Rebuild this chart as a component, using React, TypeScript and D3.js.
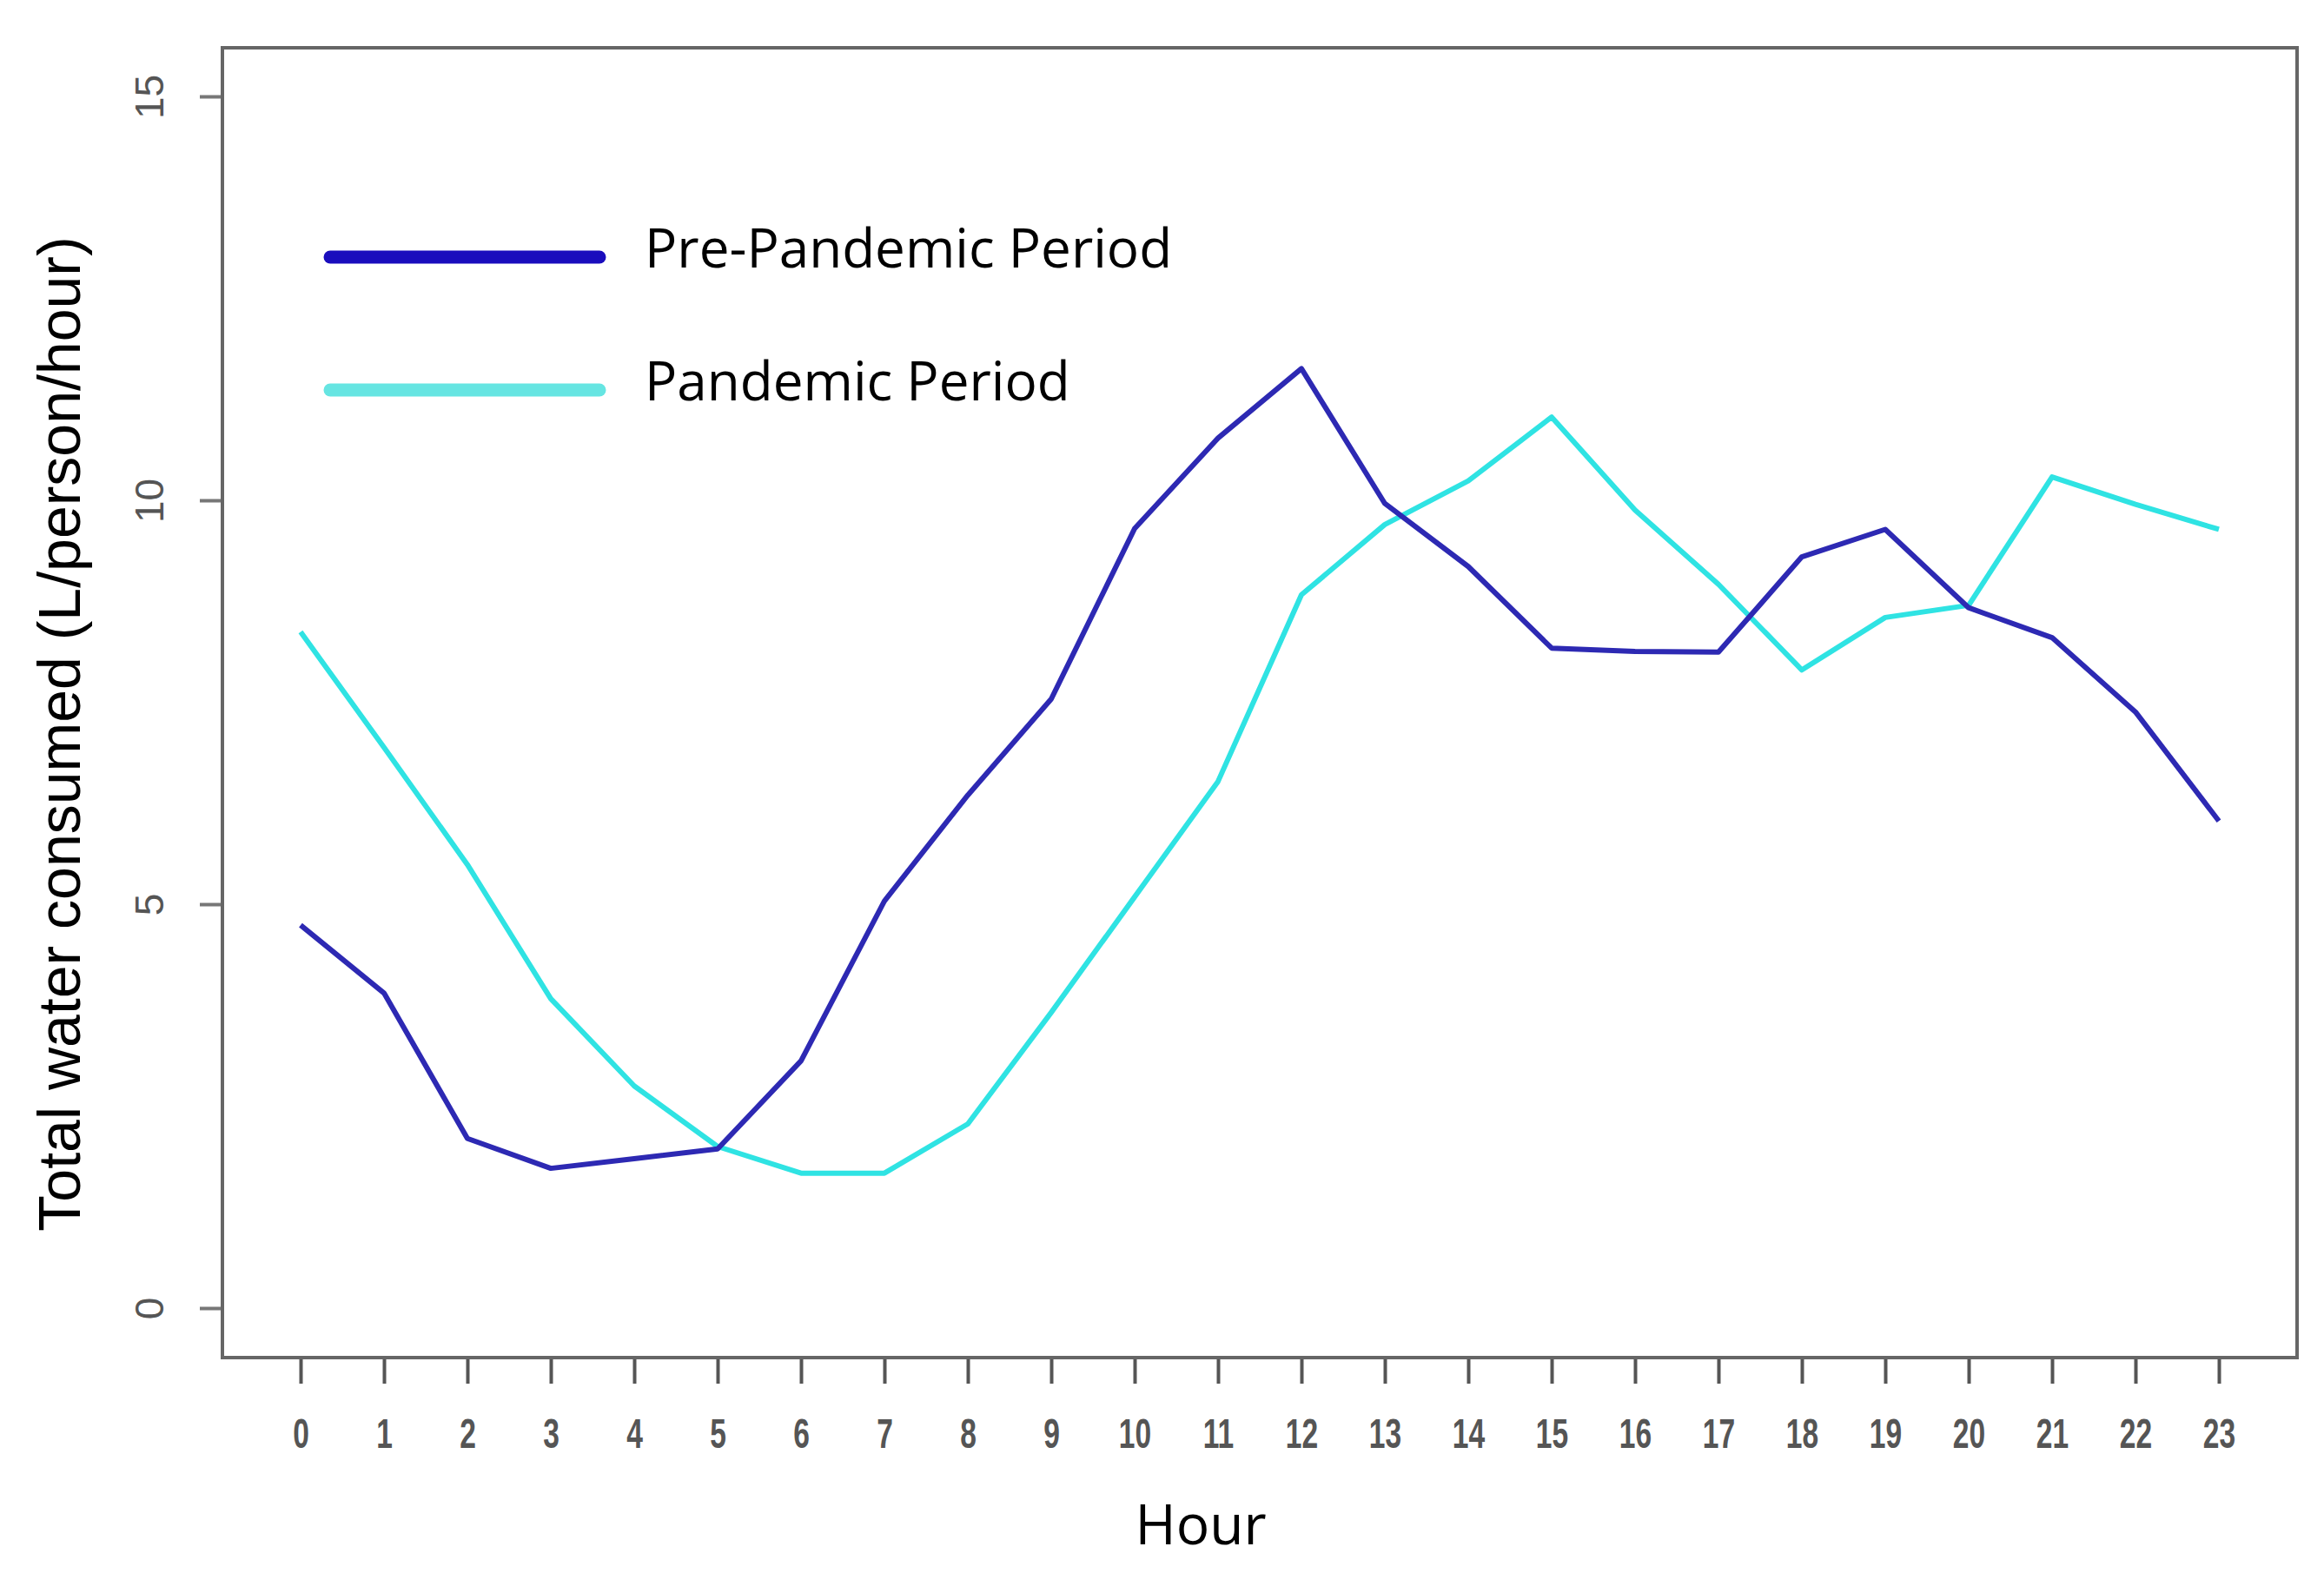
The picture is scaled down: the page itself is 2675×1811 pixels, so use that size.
import React, { useRef, useEffect } from 'react';
import * as d3 from 'd3';

const hours = [0, 1, 2, 3, 4, 5, 6, 7, 8, 9, 10, 11, 12, 13, 14, 15, 16, 17, 18, 19, 20, 21, 22, 23];
const prePandemic = [4.74, 3.9, 2.1, 1.73, 1.85, 1.97, 3.06, 5.04, 6.35, 7.54, 9.65, 10.77, 11.63, 9.96, 9.18, 8.17, 8.13, 8.12, 9.3, 9.64, 8.67, 8.3, 7.38, 6.03];
const pandemic = [8.37, 6.94, 5.49, 3.83, 2.75, 2.0, 1.67, 1.67, 2.28, 3.66, 5.09, 6.52, 8.83, 9.7, 10.24, 11.03, 9.88, 8.96, 7.9, 8.55, 8.7, 10.29, 9.95, 9.64];
const yTicks = [0, 5, 10, 15];
const seriesNames = ['Pre-Pandemic Period', 'Pandemic Period'];

const W = 2675;
const H = 1811;

export default function App() {
  const svgRef = useRef<SVGSVGElement>(null);

  useEffect(() => {
    if (!svgRef.current) return;
    const svg = d3.select(svgRef.current);
    svg.selectAll('*').remove();

    const box = { left: 256, right: 2644, top: 55, bottom: 1563 };

    const x = d3.scaleLinear().domain([0, 23]).range([346, 2554]);
    const y = d3.scaleLinear().domain([0, 15]).range([1506, 111]);

    svg.append('rect').attr('width', W).attr('height', H).attr('fill', '#fff');

    // y axis
    const yAxis = svg.append('g')
      .attr('transform', `translate(${box.left},0)`)
      .call(d3.axisLeft(y).tickValues(yTicks).tickSize(26).tickPadding(0).tickFormat(d3.format('d')));
    yAxis.select('.domain').remove();
    yAxis.selectAll('.tick line').attr('stroke', '#777').attr('stroke-width', 4);
    yAxis.selectAll('.tick text')
      .attr('dy', null)
      .attr('transform', 'rotate(-90)')
      .attr('text-anchor', 'middle')
      .attr('x', 0)
      .attr('y', -68)
      .attr('font-family', 'Liberation Sans, Arial, sans-serif')
      .attr('font-size', 46)
      .attr('fill', '#555');

    // x axis
    const xAxis = svg.append('g')
      .attr('transform', `translate(0,${box.bottom})`)
      .call(d3.axisBottom(x).tickValues(hours).tickSize(30).tickPadding(0).tickFormat(d3.format('d')));
    xAxis.select('.domain').remove();
    xAxis.selectAll('.tick line').attr('stroke', '#555').attr('stroke-width', 4);
    xAxis.selectAll('.tick text')
      .attr('y', 104)
      .attr('dy', null)
      .attr('transform', 'scale(0.7,1)')
      .attr('font-family', 'Liberation Sans, Arial, sans-serif')
      .attr('font-weight', 'bold')
      .attr('font-size', 48)
      .attr('fill', '#555');

    // plot frame
    svg.append('rect')
      .attr('x', box.left)
      .attr('y', box.top)
      .attr('width', box.right - box.left)
      .attr('height', box.bottom - box.top)
      .attr('fill', 'none')
      .attr('stroke', '#666')
      .attr('stroke-width', 4);

    const line = d3.line<number>()
      .x((d, i) => x(hours[i]))
      .y(d => y(d));

    svg.append('path')
      .datum(pandemic)
      .attr('d', line)
      .attr('fill', 'none')
      .attr('stroke', '#2fe3e3')
      .attr('stroke-width', 6)
      .attr('stroke-linejoin', 'round');

    svg.append('path')
      .datum(prePandemic)
      .attr('d', line)
      .attr('fill', 'none')
      .attr('stroke', '#2d29b3')
      .attr('stroke-width', 6)
      .attr('stroke-linejoin', 'round');

    // Legend
    const legendColors = ['#1a0dbd', '#66e5e2'];
    const legend = svg.append('g');
    const items = legend.selectAll('.legend-item')
      .data(seriesNames)
      .enter()
      .append('g')
      .attr('class', 'legend-item')
      .attr('transform', (d, i) => `translate(0, ${296 + i * 153})`);

    items.append('line')
      .attr('x1', 380)
      .attr('x2', 690)
      .attr('stroke', (d, i) => legendColors[i])
      .attr('stroke-width', 15)
      .attr('stroke-linecap', 'round');

    items.append('text')
      .attr('x', 742)
      .attr('y', 12)
      .attr('font-family', 'Open Sans, Noto Sans, sans-serif')
      .attr('font-size', 62)
      .attr('fill', '#000')
      .text(d => d);

    // axis titles
    svg.append('text')
      .attr('transform', `translate(92,${845}) rotate(-90)`)
      .attr('text-anchor', 'middle')
      .attr('font-family', 'Liberation Sans, Arial, sans-serif')
      .attr('font-size', 68)
      .attr('fill', '#000')
      .text('Total water consumed (L/person/hour)');

    svg.append('text')
      .attr('x', 1382)
      .attr('y', 1778)
      .attr('text-anchor', 'middle')
      .attr('font-family', 'Open Sans, Noto Sans, sans-serif')
      .attr('font-size', 64)
      .attr('fill', '#000')
      .text('Hour');
  }, []);

  return (
    <div style={{ position: 'absolute', left: 0, top: 0 }}>
      <svg ref={svgRef} width={W} height={H} style={{ display: 'block' }}></svg>
    </div>
  );
}
